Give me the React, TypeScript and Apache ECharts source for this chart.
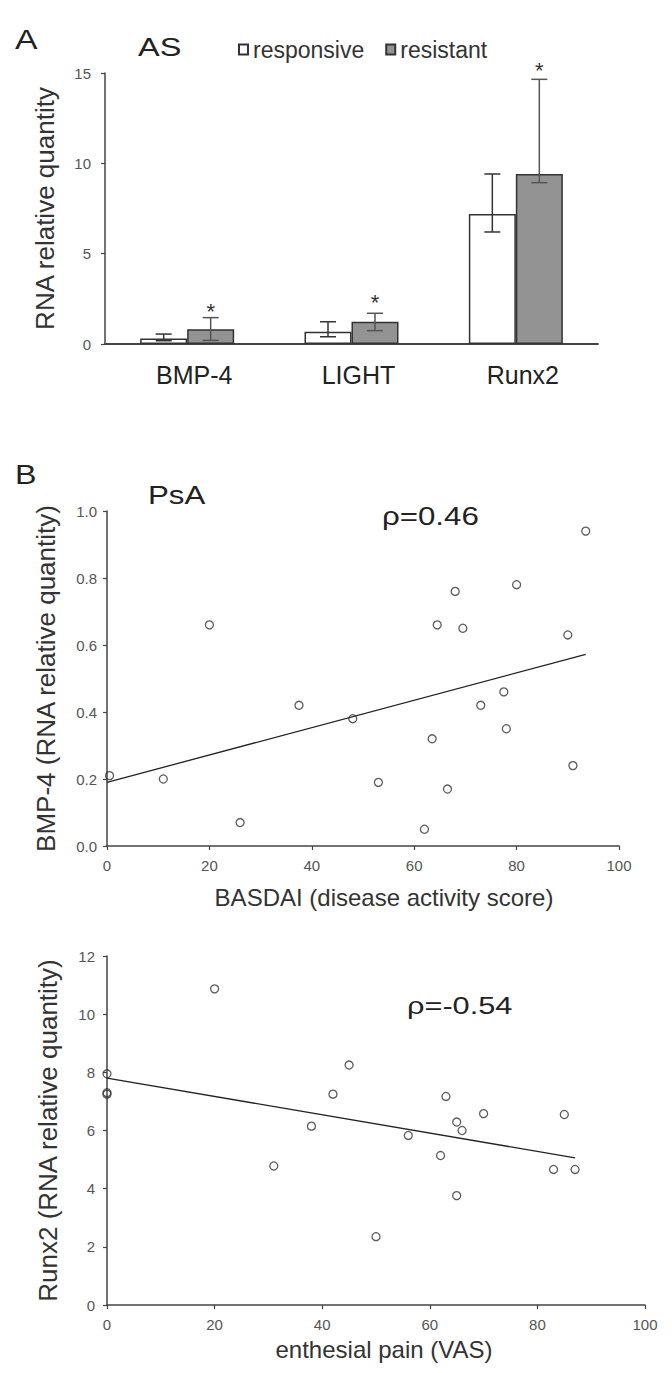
import React, { useEffect, useRef } from "react";
import * as echarts from "echarts";

const FONT = '"Liberation Sans", Arial, Helvetica, sans-serif';

// Panel A (AS) – RNA relative quantity
const categories = ["BMP-4", "LIGHT", "Runx2"];
const responsive = [0.31, 0.68, 7.19];
const responsiveLow = [0.18, 0.4, 6.2];
const responsiveHigh = [0.55, 1.23, 9.41];
const resistant = [0.81, 1.23, 9.41];
const resistantLow = [0.2, 0.74, 8.93];
const resistantHigh = [1.46, 1.7, 14.65];
const significanceY = [2.1, 2.55, 15.4];

// Panel B (PsA) – BMP-4 vs BASDAI
const basdaiX = [0.5, 11, 20, 26, 37.5, 48, 53, 62, 63.5, 64.5, 66.5, 68, 69.5, 73, 77.5, 78, 80, 90, 91, 93.5];
const bmp4Y = [0.21, 0.2, 0.66, 0.07, 0.42, 0.38, 0.19, 0.05, 0.32, 0.66, 0.17, 0.76, 0.65, 0.42, 0.46, 0.35, 0.78, 0.63, 0.24, 0.94];
const trend1X = [0, 93.5];
const trend1Y = [0.19, 0.572];

// Panel B – Runx2 vs enthesial pain
const vasX = [0, 0, 0, 20, 31, 38, 42, 45, 50, 56, 62, 63, 65, 65, 66, 70, 83, 85, 87];
const runx2Y = [7.95, 7.3, 7.25, 10.87, 4.78, 6.15, 7.25, 8.25, 2.35, 5.83, 5.14, 7.17, 6.29, 3.76, 6.0, 6.58, 4.66, 6.55, 4.66];
const trend2X = [0, 87];
const trend2Y = [7.8, 5.06];

const BAR_W = 47;
const AXIS_COLOR = "#444";
const TICK_LABEL = { color: "#555", fontSize: 15, fontFamily: FONT };

function errorSeries(low: number[], high: number[], offset: number, stroke: string) {
  return {
    type: "custom",
    xAxisIndex: 0,
    yAxisIndex: 0,
    z: 5,
    encode: { x: 0, y: [1, 2] },
    data: low.map((l, i) => [i, l, high[i]]),
    renderItem: (params: any, api: any) => {
      const c = api.value(0);
      const lo = api.coord([c, api.value(1)]);
      const hi = api.coord([c, api.value(2)]);
      const x = lo[0] + offset;
      const cap = 8;
      const style = { stroke, lineWidth: 1.5 };
      return {
        type: "group",
        children: [
          { type: "line", shape: { x1: x, y1: hi[1], x2: x, y2: lo[1] }, style },
          { type: "line", shape: { x1: x - cap, y1: hi[1], x2: x + cap, y2: hi[1] }, style },
          { type: "line", shape: { x1: x - cap, y1: lo[1], x2: x + cap, y2: lo[1] }, style },
        ],
      };
    },
  };
}

export default function App() {
  const ref = useRef<HTMLDivElement>(null);
  useEffect(() => {
    if (!ref.current) return;
    const chart = echarts.init(ref.current, null, { renderer: "svg" });
    const valueAxisCommon = {
      type: "value",
      splitLine: { show: false },
      axisLine: { show: true, lineStyle: { color: AXIS_COLOR, width: 1.5 } },
      axisTick: { show: true, length: 4, lineStyle: { color: AXIS_COLOR, width: 1.2 } },
    };
    const option: any = {
      animation: false,
      backgroundColor: "#fff",
      textStyle: { fontFamily: FONT },
      legend: {
        data: ["responsive", "resistant"],
        left: 233,
        top: 33,
        itemWidth: 9,
        itemHeight: 10,
        itemGap: 21,
        icon: "rect",
        textStyle: { fontSize: 23, color: "#333", fontFamily: FONT },
      },
      grid: [
        { left: 105, top: 73, width: 493, height: 271 },
        { left: 107, top: 511, width: 512, height: 335 },
        { left: 107, top: 956, width: 538, height: 349 },
      ],
      xAxis: [
        {
          gridIndex: 0,
          type: "category",
          data: categories,
          axisTick: { show: false },
          axisLine: { show: true, lineStyle: { color: AXIS_COLOR, width: 1.8 } },
          axisLabel: { color: "#222", fontSize: 25, fontFamily: FONT, margin: 18, padding: [0, 0, 0, 14] },
        },
        {
          ...valueAxisCommon,
          gridIndex: 1,
          min: 0,
          max: 100,
          interval: 20,
          axisLabel: { ...TICK_LABEL, margin: 12 },
          name: "BASDAI (disease activity score)",
          nameLocation: "middle",
          nameGap: 39,
          nameTextStyle: { fontSize: 24, color: "#333", fontFamily: FONT, padding: [0, 0, 0, 42] },
        },
        {
          ...valueAxisCommon,
          gridIndex: 2,
          min: 0,
          max: 100,
          interval: 20,
          axisLabel: { ...TICK_LABEL, margin: 12 },
          name: "enthesial pain (VAS)",
          nameLocation: "middle",
          nameGap: 32,
          nameTextStyle: { fontSize: 24, color: "#333", fontFamily: FONT, padding: [0, 0, 0, 16] },
        },
      ],
      yAxis: [
        {
          ...valueAxisCommon,
          gridIndex: 0,
          min: 0,
          max: 15,
          interval: 5,
          axisLabel: { ...TICK_LABEL, margin: 14 },
          name: "RNA relative quantity",
          nameLocation: "middle",
          nameRotate: 90,
          nameGap: 47,
          nameTextStyle: { fontSize: 26, color: "#333", fontFamily: FONT },
        },
        {
          ...valueAxisCommon,
          gridIndex: 1,
          min: 0,
          max: 1,
          interval: 0.2,
          axisLabel: { ...TICK_LABEL, margin: 10, formatter: (v: number) => v.toFixed(1) },
          name: "BMP-4 (RNA relative quantity)",
          nameLocation: "middle",
          nameRotate: 90,
          nameGap: 48,
          nameTextStyle: { fontSize: 26, color: "#333", fontFamily: FONT },
        },
        {
          ...valueAxisCommon,
          gridIndex: 2,
          min: 0,
          max: 12,
          interval: 2,
          axisLabel: { ...TICK_LABEL, margin: 12 },
          name: "Runx2 (RNA relative quantity)",
          nameLocation: "middle",
          nameRotate: 90,
          nameGap: 46,
          nameTextStyle: { fontSize: 26, color: "#333", fontFamily: FONT },
        },
      ],
      series: [
        {
          name: "responsive",
          type: "bar",
          xAxisIndex: 0,
          yAxisIndex: 0,
          barWidth: BAR_W,
          barGap: "0%",
          data: responsive,
          itemStyle: { color: "#ffffff", borderColor: "#333", borderWidth: 1.5 },
        },
        {
          name: "resistant",
          type: "bar",
          xAxisIndex: 0,
          yAxisIndex: 0,
          barWidth: BAR_W,
          barGap: "0%",
          data: resistant,
          itemStyle: { color: "#939393", borderColor: "#333", borderWidth: 1.5 },
        },
        errorSeries(responsiveLow, responsiveHigh, -BAR_W / 2, "#333"),
        errorSeries(resistantLow, resistantHigh, BAR_W / 2, "#555"),
        {
          type: "custom",
          xAxisIndex: 0,
          yAxisIndex: 0,
          z: 6,
          encode: { x: 0, y: 1 },
          data: significanceY.map((v, i) => [i, v]),
          renderItem: (params: any, api: any) => {
            const p = api.coord([api.value(0), api.value(1)]);
            return {
              type: "text",
              x: p[0] + BAR_W / 2,
              y: p[1] + 5,
              style: { text: "*", fontSize: 22, fontFamily: FONT, fill: "#333", align: "center", verticalAlign: "middle" },
            };
          },
        },
        {
          type: "line",
          xAxisIndex: 1,
          yAxisIndex: 1,
          data: trend1X.map((x, i) => [x, trend1Y[i]]),
          showSymbol: false,
          lineStyle: { color: "#222", width: 1.3 },
          z: 3,
        },
        {
          type: "scatter",
          xAxisIndex: 1,
          yAxisIndex: 1,
          data: basdaiX.map((x, i) => [x, bmp4Y[i]]),
          symbol: "circle",
          symbolSize: 8,
          itemStyle: { color: "rgba(255,255,255,0)", borderColor: "#333", borderWidth: 1.3 },
          z: 4,
        },
        {
          type: "line",
          xAxisIndex: 2,
          yAxisIndex: 2,
          data: trend2X.map((x, i) => [x, trend2Y[i]]),
          showSymbol: false,
          lineStyle: { color: "#222", width: 1.3 },
          z: 3,
        },
        {
          type: "scatter",
          xAxisIndex: 2,
          yAxisIndex: 2,
          data: vasX.map((x, i) => [x, runx2Y[i]]),
          symbol: "circle",
          symbolSize: 8,
          itemStyle: { color: "rgba(255,255,255,0)", borderColor: "#333", borderWidth: 1.3 },
          z: 4,
        },
      ],
      graphic: [
        { type: "text", x: 15, y: 39, scaleX: 1.25, style: { text: "A", fontSize: 27, fontFamily: FONT, fill: "#222", align: "left", verticalAlign: "middle" } },
        { type: "text", x: 138, y: 47, scaleX: 1.25, style: { text: "AS", fontSize: 26, fontFamily: FONT, fill: "#222", align: "left", verticalAlign: "middle" } },
        { type: "text", x: 15, y: 474, scaleX: 1.15, style: { text: "B", fontSize: 28, fontFamily: FONT, fill: "#222", align: "left", verticalAlign: "middle" } },
        { type: "text", x: 148, y: 495, scaleX: 1.2, style: { text: "PsA", fontSize: 26, fontFamily: FONT, fill: "#222", align: "left", verticalAlign: "middle" } },
        { type: "text", x: 382, y: 516, scaleX: 1.25, style: { text: "ρ=0.46", fontSize: 25, fontFamily: FONT, fill: "#222", align: "left", verticalAlign: "middle" } },
        { type: "text", x: 407, y: 1006, scaleX: 1.28, style: { text: "ρ=-0.54", fontSize: 24, fontFamily: FONT, fill: "#222", align: "left", verticalAlign: "middle" } },
      ],
    };
    chart.setOption(option);
    return () => chart.dispose();
  }, []);
  return (
    <div
      ref={ref}
      style={{ position: "absolute", left: 0, top: 0, width: 672, height: 1373, background: "#fff" }}
    />
  );
}
